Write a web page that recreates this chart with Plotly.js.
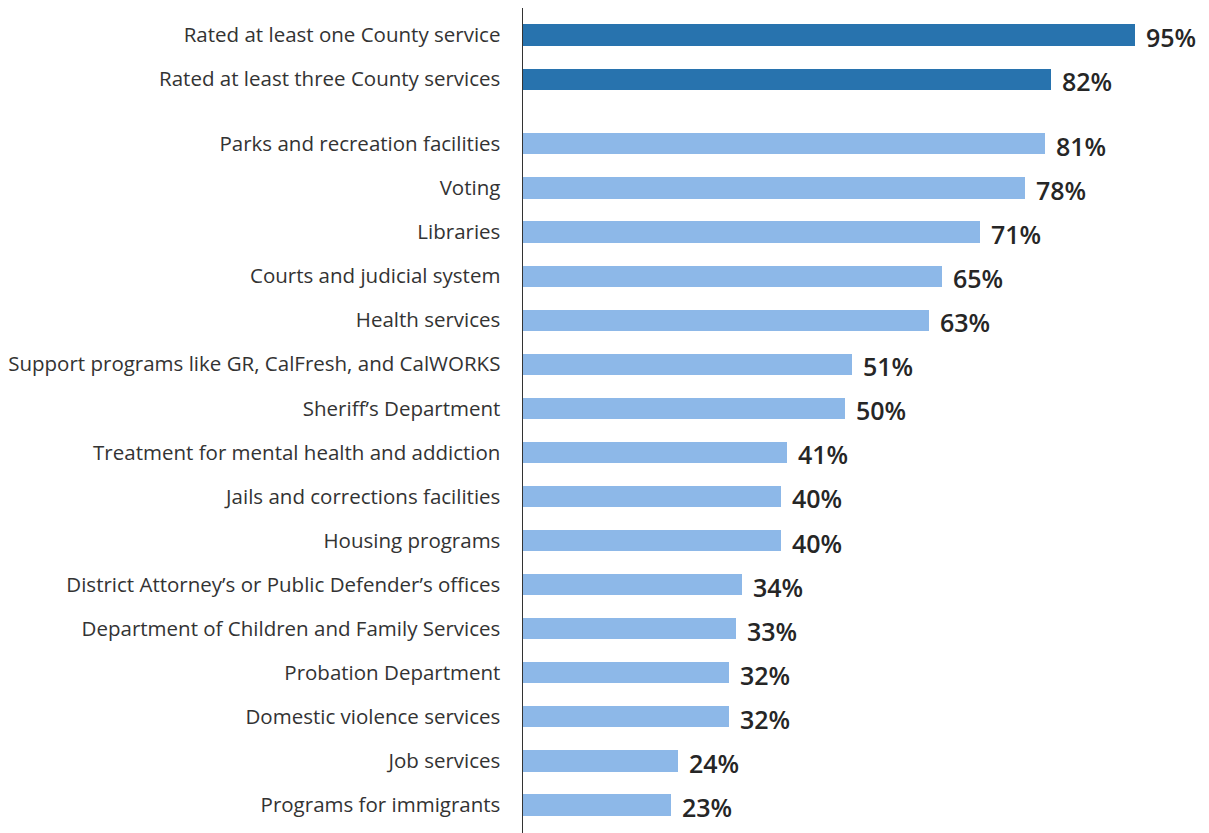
<!DOCTYPE html>
<html>
<head>
<meta charset="utf-8">
<script src="https://cdn.plot.ly/plotly-3.0.1.min.js"></script>
<style>html,body{margin:0;padding:0;background:#fff;}#chart{width:1209px;height:833px;}</style>
</head>
<body>
<div id="chart"></div>
<script>
const categories = [
  "Rated at least one County service",
  "Rated at least three County services",
  "Parks and recreation facilities",
  "Voting",
  "Libraries",
  "Courts and judicial system",
  "Health services",
  "Support programs like GR, CalFresh, and CalWORKS",
  "Sheriff\u2019s Department",
  "Treatment for mental health and addiction",
  "Jails and corrections facilities",
  "Housing programs",
  "District Attorney\u2019s or Public Defender\u2019s offices",
  "Department of Children and Family Services",
  "Probation Department",
  "Domestic violence services",
  "Job services",
  "Programs for immigrants"
];
const values = [95, 82, 81, 78, 71, 65, 63, 51, 50, 41, 40, 40, 34, 33, 32, 32, 24, 23];
const groups = ["summary","summary","service","service","service","service","service","service","service","service","service","service","service","service","service","service","service","service"];

const colorMap = {summary: "#2873ae", service: "#8db8e8"};
// positions: about half-slot gap between summary rows and services
const pos = categories.map((c, i) => groups[i] === "summary" ? i : i + 0.47);

const trace = {
  type: "bar",
  orientation: "h",
  x: values,
  y: pos,
  width: 0.48,
  marker: {color: groups.map(g => colorMap[g])},
  hoverinfo: "skip"
};

const annotations = values.map((v, i) => ({
  x: v, y: pos[i], xref: "x", yref: "y",
  text: v + "%", showarrow: false,
  xanchor: "left", yanchor: "middle",
  xshift: 9, yshift: -2,
  font: {family: "Open Sans", size: 25, color: "#262626", weight: 600}
}));

const layout = {
  width: 1209, height: 833,
  margin: {l: 523, r: 0, t: 8, b: 0},
  paper_bgcolor: "#fff", plot_bgcolor: "#fff",
  showlegend: false,
  bargap: 0,
  xaxis: {range: [0, 106.5], visible: false, fixedrange: true},
  yaxis: {
    range: [18.105, -0.613],
    tickvals: pos, ticktext: categories,
    showgrid: false, zeroline: false,
    showline: true, linecolor: "#333", linewidth: 1.5,
    ticks: "", ticklabelstandoff: 17,
    tickfont: {family: "Open Sans", size: 20.5, color: "#333"}
  },
  annotations: annotations
};

Plotly.newPlot("chart", [trace], layout, {displayModeBar: false, staticPlot: true});
</script>
</body>
</html>
